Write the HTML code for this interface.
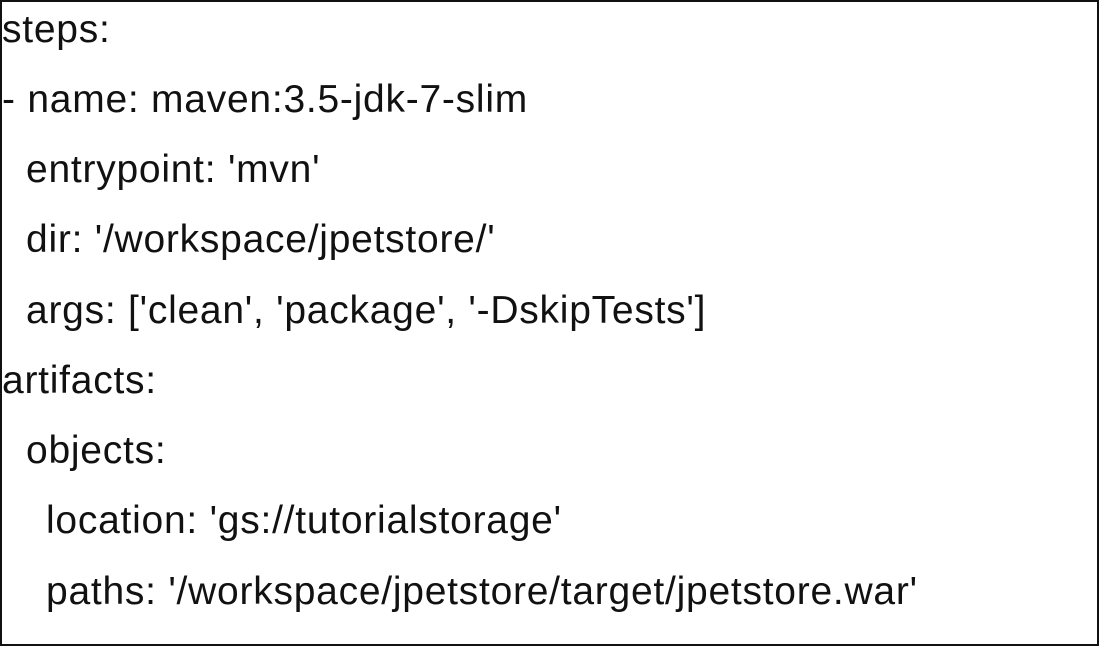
<!DOCTYPE html>
<html><head><style>
html,body{margin:0;padding:0;background:#fff;}
#b{position:absolute;left:0;top:0;width:1095px;height:642px;border:2px solid #111;background:#fff;overflow:hidden;}
.l{position:absolute;font-family:"Liberation Sans",Arial,sans-serif;font-size:39px;line-height:38px;letter-spacing:0.75px;color:#111;white-space:pre;}
</style></head><body>
<div id="b">
<div class="l" style="left:0px;top:9px">steps:</div>
<div class="l" style="left:0px;top:79px">- name: maven:3.5-jdk-7-slim</div>
<div class="l" style="left:24px;top:149px">entrypoint: 'mvn'</div>
<div class="l" style="left:24px;top:219px">dir: '/workspace/jpetstore/'</div>
<div class="l" style="left:24px;top:290px">args: ['clean', 'package', '-DskipTests']</div>
<div class="l" style="left:0px;top:360px">artifacts:</div>
<div class="l" style="left:24px;top:430px">objects:</div>
<div class="l" style="left:44px;top:500px">location: 'gs://tutorialstorage'</div>
<div class="l" style="left:44px;top:571px">paths: '/workspace/jpetstore/target/jpetstore.war'</div>
</div>
</body></html>
